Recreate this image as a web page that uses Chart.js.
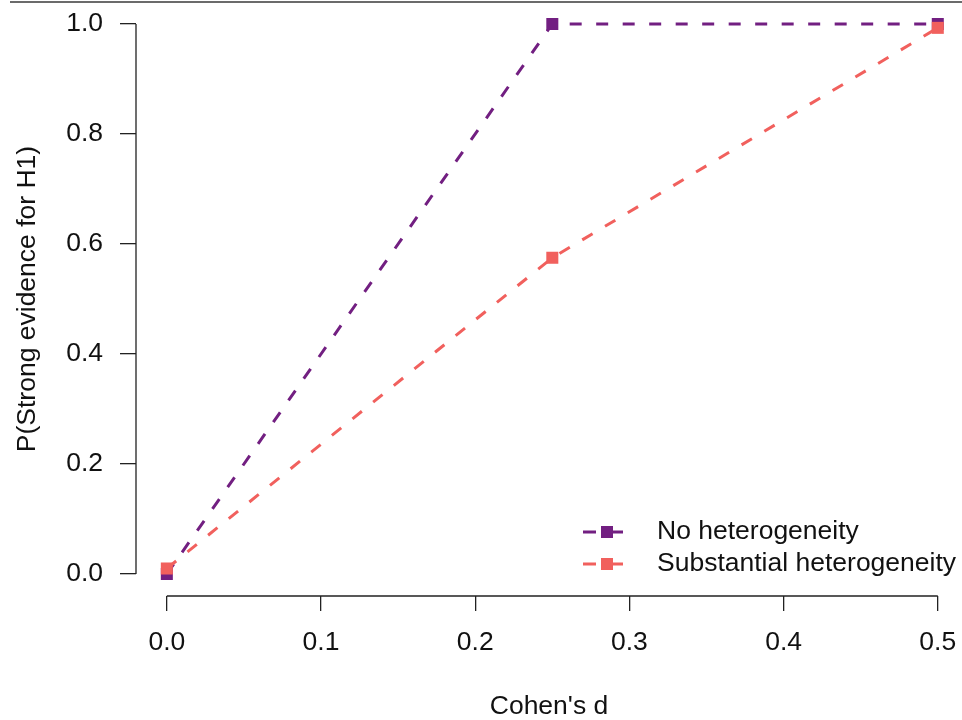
<!DOCTYPE html>
<html>
<head>
<meta charset="utf-8">
<script src="https://cdn.jsdelivr.net/npm/chart.js@4"></script>
<style>
    body { margin: 0; background: #fff; }
    #wrap { position: relative; width: 962px; height: 720px; }
    #topline { position: absolute; left: 10px; top: 1px; width: 952px; border-top: 2px solid #6b6b6b; }
</style>
</head>
<body>
<div id="wrap">
    <canvas id="mainChart" width="962" height="720"></canvas>
    <div id="topline"></div>
</div>
<script>
// Datos
const cohensD = [0, 0.25, 0.5];
const noHeterogeneity = [0, 1.0, 1.0];
const substantialHeterogeneity = [0.01, 0.575, 0.993];
const xTicks = [0, 0.1, 0.2, 0.3, 0.4, 0.5];
const yTicks = [0, 0.2, 0.4, 0.6, 0.8, 1.0];
const seriesNames = ['No heterogeneity', 'Substantial heterogeneity'];

const PURPLE = '#721F81';
const CORAL = '#F1605D';
const FONT = 'Liberation Sans, Arial, sans-serif';
const FSIZE = 26.5;

const toPoints = ys => cohensD.map((d, i) => ({ x: d, y: ys[i] }));

/**
 * Ejes al estilo R: línea sólo entre el primer y último tick
 */
const rAxes = {
    id: 'rAxes',
    afterDraw(chart) {
        const { ctx, scales: { x, y }, chartArea } = chart;
        ctx.save();
        ctx.strokeStyle = '#222';
        ctx.lineWidth = 1.3;
        ctx.beginPath();
        ctx.moveTo(chartArea.left, y.getPixelForValue(yTicks[0]));
        ctx.lineTo(chartArea.left, y.getPixelForValue(yTicks[yTicks.length - 1]));
        ctx.moveTo(x.getPixelForValue(xTicks[0]), chartArea.bottom);
        ctx.lineTo(x.getPixelForValue(xTicks[xTicks.length - 1]), chartArea.bottom);
        ctx.stroke();
        ctx.restore();
    }
};

// Leyenda con línea discontinua + marcador cuadrado
const rLegend = {
    id: 'rLegend',
    afterDraw(chart) {
        const { ctx } = chart;
        const colors = [PURPLE, CORAL];
        const rows = [532, 564];
        ctx.save();
        seriesNames.forEach((name, i) => {
            const yy = rows[i];
            ctx.strokeStyle = colors[i];
            ctx.lineWidth = 3;
            ctx.beginPath();
            ctx.moveTo(583, yy); ctx.lineTo(596, yy);
            ctx.moveTo(611, yy); ctx.lineTo(623, yy);
            ctx.stroke();
            ctx.fillStyle = colors[i];
            ctx.fillRect(601, yy - 6, 12, 12);
            ctx.fillStyle = '#111';
            ctx.font = `${FSIZE}px ${FONT}`;
            ctx.textAlign = 'left';
            ctx.textBaseline = 'middle';
            ctx.fillText(name, 657, yy);
        });
        ctx.restore();
    }
};

const lineStyle = color => ({
    borderColor: color,
    backgroundColor: color,
    borderWidth: 3,
    borderDash: [12, 14.5],
    pointStyle: 'rect',
    pointRadius: 8.5,
    pointBorderWidth: 0,
    pointHoverRadius: 8.5,
    fill: false,
    tension: 0,
    clip: false
});

const tickFont = { family: FONT, size: FSIZE };
const noPad = s => { s.paddingTop = 0; s.paddingBottom = 0; s.paddingLeft = 0; s.paddingRight = 0; };

new Chart(document.getElementById('mainChart'), {
    type: 'line',
    data: {
        datasets: [
            { label: seriesNames[0], data: toPoints(noHeterogeneity), order: 2, ...lineStyle(PURPLE) },
            { label: seriesNames[1], data: toPoints(substantialHeterogeneity), order: 1, ...lineStyle(CORAL) }
        ]
    },
    options: {
        responsive: false,
        animation: false,
        events: [],
        layout: { autoPadding: false, padding: { top: 2, right: 0, bottom: 0, left: 0 } },
        plugins: { legend: { display: false }, tooltip: { enabled: false } },
        scales: {
            x: {
                type: 'linear',
                min: -0.02,
                max: 0.5157,
                afterBuildTicks: s => { s.ticks = xTicks.map(v => ({ value: v })); },
                afterFit: s => { s.height = 124; noPad(s); },
                ticks: { font: tickFont, color: '#111', padding: 16, maxRotation: 0, callback: v => v.toFixed(1) },
                grid: { drawOnChartArea: false, drawTicks: true, tickLength: 15, color: '#222', lineWidth: 1.3 },
                border: { display: false },
                title: { display: true, text: "Cohen's d", font: { family: FONT, size: FSIZE, lineHeight: 1 }, color: '#111', padding: { top: 0, bottom: 0 } }
            },
            y: {
                type: 'linear',
                min: -0.04,
                max: 1.04,
                afterBuildTicks: s => { s.ticks = yTicks.map(v => ({ value: v })); },
                afterFit: s => { s.width = 136; noPad(s); },
                ticks: { font: tickFont, color: '#111', padding: 17, callback: v => v.toFixed(1) },
                grid: { drawOnChartArea: false, drawTicks: true, tickLength: 16, color: '#222', lineWidth: 1.3 },
                border: { display: false },
                title: { display: true, text: 'P(Strong evidence for H1)', font: { family: FONT, size: FSIZE, lineHeight: 1.2 }, color: '#111', padding: { top: 12, bottom: 0 } }
            }
        }
    },
    plugins: [rAxes, rLegend]
});
</script>
</body>
</html>
